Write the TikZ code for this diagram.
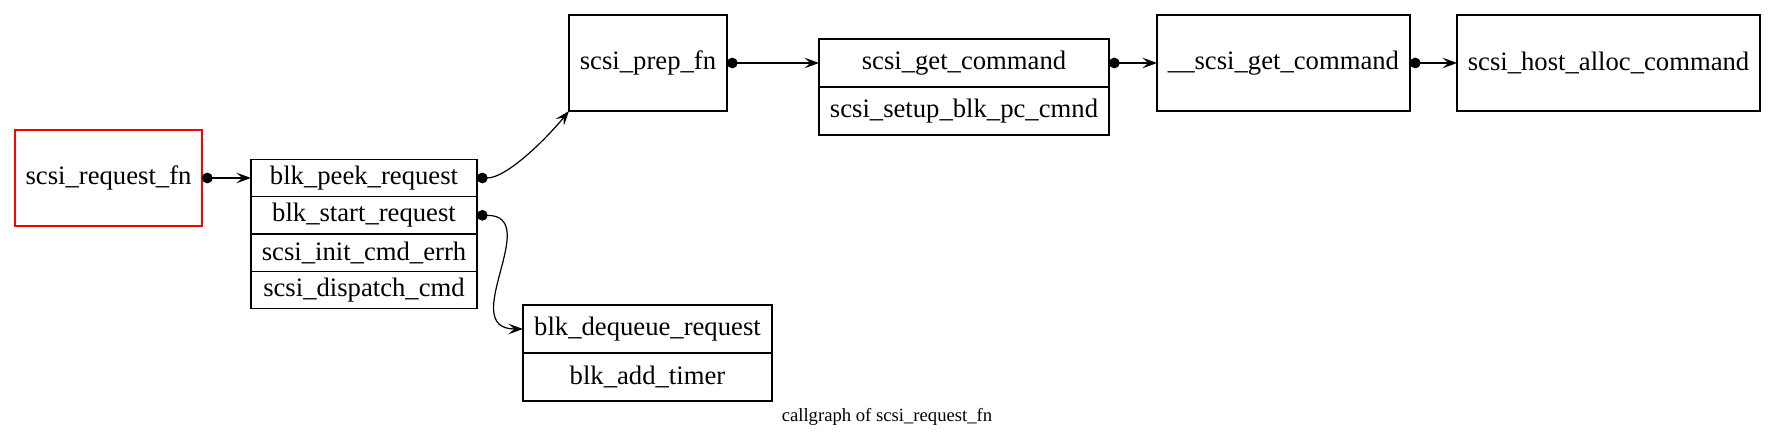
\documentclass[tikz,border=0pt]{standalone}
\usepackage{fontspec}
\setmainfont{Liberation Serif}
\usetikzlibrary{positioning,arrows.meta}
\tikzset{
  fn/.style={draw, line width=0.9pt, inner sep=0pt, outer sep=0pt, minimum height=72pt, font=\fontsize{20}{24}\selectfont},
  fld/.style={fn, minimum height=28pt, minimum width=169.5pt},
  fldhi/.style={fn, minimum height=36pt},
  call/.style={line width=0.9pt, {Circle[length=8pt]}-{Stealth[length=11pt,width=8pt,inset=4.5pt]}}
}
\begin{document}
\begin{tikzpicture}[x=1pt,y=1pt]
	\useasboundingbox (0,0) rectangle (1331.25,334.5);
	% Aufrufer
	\node [fn, draw=red, minimum width=140.25pt] (req) at (81.4,201) {scsi\_request\_fn};
	% Linker Block
	\node [fld] (peek) at (273,201) {blk\_peek\_request};
	\node [fld, below=0pt of peek] (start) {blk\_start\_request};
	\node [fld, below=0pt of start] (errh) {scsi\_init\_cmd\_errh};
	\node [fld, below=0pt of errh] (dispatch) {scsi\_dispatch\_cmd};
	% Obere Reihe
	\node [fn, minimum width=118.5pt] (prep) at (486,287.25) {scsi\_prep\_fn};
	\node [fldhi, minimum width=217.5pt] (getcmd) at (723,287.25) {scsi\_get\_command};
	\node [fldhi, minimum width=217.5pt, below=0pt of getcmd] (setup) {scsi\_setup\_blk\_pc\_cmnd};
	\node [fn, minimum width=189.75pt] (rawget) at (962.6,287.25) {\_\_scsi\_get\_command};
	\node [fn, minimum width=227.25pt] (hostalloc) at (1206.4,287.25) {scsi\_host\_alloc\_command};
	% Unterer Block
	\node [fldhi, minimum width=186.75pt] (dequeue) at (485.6,87.75) {blk\_dequeue\_request};
	\node [fldhi, minimum width=186.75pt, below=0pt of dequeue] (timer) {blk\_add\_timer};
	% Titel
	\node [font=\fontsize{14}{17}\selectfont, anchor=base] (title) at (665.25,18) {callgraph of scsi\_request\_fn};
	% Linien
	\draw [call] (req.east) -- (peek.west);
	\draw [call] (peek.east) .. controls +(22,0) and +(-18,-22) .. (prep.south west);
	\draw [call] (start.east) to [out=0, in=180, looseness=1.4] (dequeue.west);
	\draw [call] (prep.east) -- (getcmd.west);
	\draw [call] (getcmd.east) -- (rawget.west);
	\draw [call] (rawget.east) -- (hostalloc.west);
\end{tikzpicture}
\end{document}
